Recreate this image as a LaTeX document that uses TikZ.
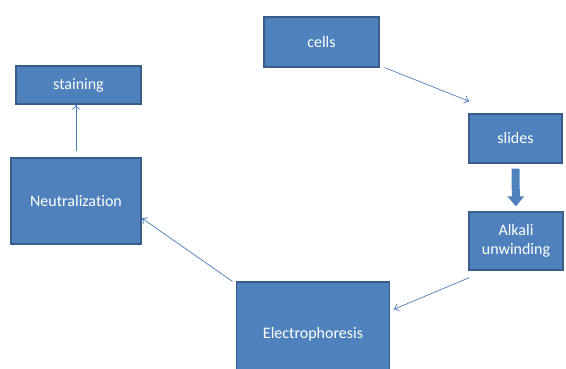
\documentclass[tikz,border=0pt]{standalone}
\usepackage{fontspec}
\setmainfont[Ligatures=NoCommon]{Carlito}
\usetikzlibrary{arrows.meta}
\definecolor{boxblue}{HTML}{4F81BD}
\definecolor{boxedge}{HTML}{385D8A}
\definecolor{linkblue}{HTML}{4A7EBB}
\tikzset{
  stepbox/.style={draw=boxedge, line width=1.2pt, fill=boxblue, text=white, align=center,
    font=\fontsize{16}{19}\selectfont, inner sep=0pt},
  link/.style={draw=linkblue, line width=0.7pt, -{To[length=5pt,width=8pt]}},
  bigarrow/.style={draw=boxblue, line width=8pt, -{Triangle[length=10pt,width=16pt]}}
}
\begin{document}
\begin{tikzpicture}[x=1pt,y=-1pt]
        \useasboundingbox (0,0) rectangle (566,369);
        \clip (0,0) rectangle (566,369);

        \node[stepbox, minimum width=115pt, minimum height=50pt] (cells) at (321.5,42) {cells};
        \node[stepbox, minimum width=93pt, minimum height=49pt] (slides) at (515.5,138.5) {slides};
        \node[stepbox, minimum width=94pt, minimum height=58pt] (alkali) at (516,241) {Alkali\\unwinding};
        % box runs well past the bottom edge
        \node[stepbox, minimum width=153pt, minimum height=130pt] (electro) at (313,347) {Electrophoresis\\[9pt]};
        \node[stepbox, minimum width=130pt, minimum height=86pt] (neutral) at (76,201) {Neutralization};
        \node[stepbox, minimum width=125pt, minimum height=38pt] (staining) at (78.5,85) {staining};

        \draw[link] ([xshift=5pt]cells.south east) -- ([shift={(1pt,12pt)}]slides.north west);
        \draw[bigarrow, shorten <=5pt, shorten >=5pt] (slides) -- (alkali);
        \draw[link] ([shift={(1pt,-7pt)}]alkali.south west) -- ([shift={(3.5pt,-28pt)}]electro.north east);
        \draw[link] ([xshift=-3.5pt]electro.north west) -- ([yshift=-17pt]neutral.east);
        \draw[link, shorten <=6pt] (neutral.north) -- (neutral.north |- staining.south);

    \end{tikzpicture}
\end{document}
